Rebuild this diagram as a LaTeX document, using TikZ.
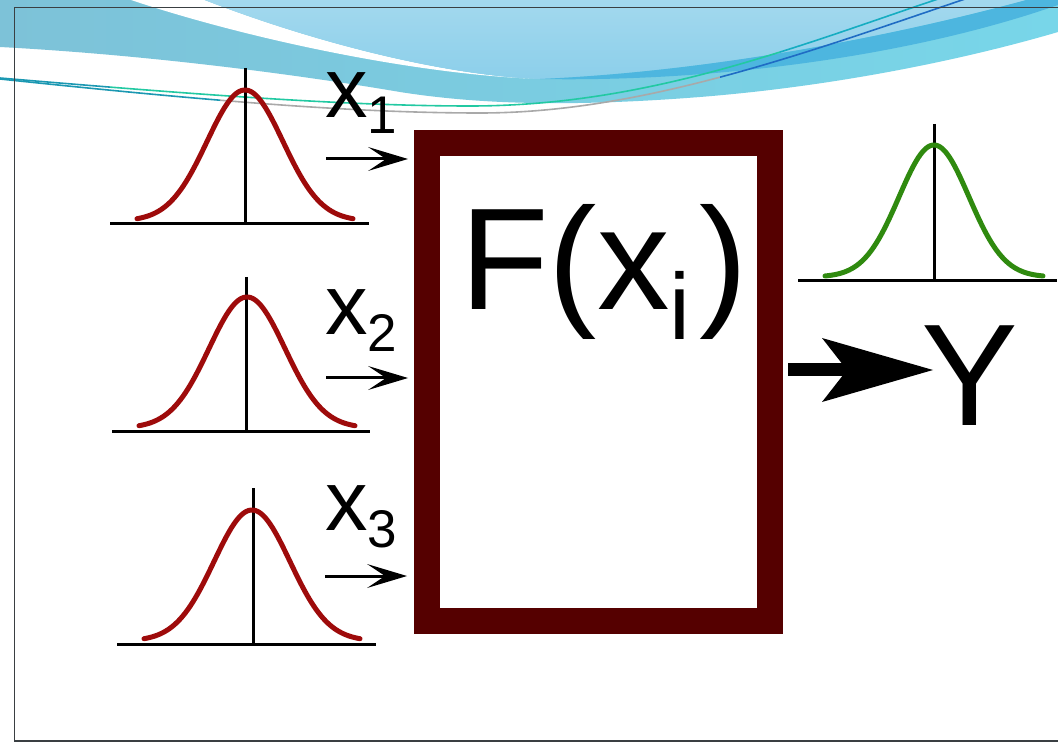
\documentclass[tikz,border=0pt]{standalone}
\usepackage{fontspec}
\setmainfont{Liberation Sans}
\usetikzlibrary{arrows.meta}
\definecolor{curvered}{HTML}{9E0B0B}
\definecolor{curvegreen}{HTML}{2F8A0F}
\definecolor{boxred}{HTML}{550000}
\definecolor{bandleft}{HTML}{7DC2D8}
\definecolor{bandmid}{HTML}{7EDDEC}
\definecolor{bandright}{HTML}{78D6E9}
\definecolor{lightsky}{HTML}{8CCFEA}
\definecolor{darkband}{HTML}{4DB6DF}
\definecolor{linegreen}{HTML}{22C9A2}
\definecolor{lineteal}{HTML}{1B98B2}
\definecolor{lineblue}{HTML}{1F6CC4}
\definecolor{linegrey}{HTML}{A9A9A9}
\definecolor{framegrey}{HTML}{3A3F42}
\begin{document}
\begin{tikzpicture}[x=1pt,y=-1pt,
  axisline/.style={line width=3pt, black},
  bell/.style={line width=5pt, curvered, line cap=round},
  greenbell/.style={line width=5pt, curvegreen, line cap=round},
  inarrow/.style={line width=3pt, black, -{Stealth[length=40pt, width=24pt, inset=18pt, line width=0pt]}},
  bigarrow/.style={line width=13pt, black, -{Stealth[length=111pt, width=64pt, inset=25pt, line width=0pt]}},
  funcbox/.style={draw=boxred, line width=26pt, inner sep=0pt, minimum width=343.5pt, minimum height=477.5pt},
  lbl/.style={anchor=base west, inner sep=0pt, text=black},
  deco/.style={line width=1.6pt}
]
\useasboundingbox (0,0) rectangle (1058,743);
\fill[white] (0,0) rectangle (1058,743);

% ---------- top decoration ----------
\shade[left color=bandleft, middle color=bandmid, right color=bandright]
  (0,-1) -- (0,47) .. controls (150,55) and (300,75) .. (400,92)
  .. controls (470,103) and (560,108) .. (700,97)
  .. controls (850,85) and (980,55) .. (1058,32) -- (1058,-1) -- cycle;
\fill[white] (128,-1) .. controls (250,40) and (420,75) .. (540,79)
  .. controls (450,76) and (320,45) .. (202,-1) -- cycle;
\shade[top color=lightsky!80!white, bottom color=lightsky]
  (202,-1) .. controls (320,45) and (450,76) .. (540,79)
  .. controls (700,72) and (880,40) .. (1030,-1) -- cycle;
\fill[darkband] (540,79) .. controls (700,82) and (900,60) .. (1058,5)
  -- (1058,-1) -- (1030,-1) .. controls (880,40) and (700,72) .. (540,79) -- cycle;
% thin lines
\begin{scope}
  \clip (0,-1) rectangle (110,200);
  \draw[deco, lineteal] (0,78) .. controls (200,95) and (350,106) .. (470,106)
    .. controls (650,106) and (800,45) .. (938,-1);
\end{scope}
\begin{scope}
  \clip (110,-1) rectangle (780,200);
  \draw[deco, linegreen] (0,78) .. controls (200,95) and (350,106) .. (470,106)
    .. controls (650,106) and (800,45) .. (938,-1);
\end{scope}
\begin{scope}
  \clip (780,-1) rectangle (1058,200);
  \draw[deco, lineteal!80!cyan] (0,78) .. controls (200,95) and (350,106) .. (470,106)
    .. controls (650,106) and (800,45) .. (938,-1);
\end{scope}
\begin{scope}
  \clip (0,-1) rectangle (220,200);
  \draw[deco, lineteal] (0,79) .. controls (200,100) and (350,113) .. (480,113)
    .. controls (640,113) and (800,55) .. (965,-1);
\end{scope}
\begin{scope}
  \clip (220,-1) rectangle (720,200);
  \draw[deco, linegrey] (0,79) .. controls (200,100) and (350,113) .. (480,113)
    .. controls (640,113) and (800,55) .. (965,-1);
\end{scope}
\begin{scope}
  \clip (720,-1) rectangle (1058,200);
  \draw[deco, lineblue] (0,79) .. controls (200,100) and (350,113) .. (480,113)
    .. controls (640,113) and (800,55) .. (965,-1);
\end{scope}

% ---------- frame ----------
\draw[framegrey, line width=1.3pt] (1060,7.5) -- (14.5,7.5) -- (14.5,741) -- (1060,741);

% ---------- input distributions ----------
\draw[axisline] (110,224) -- (369,224);
\draw[axisline] (245,68) -- (245,224);
\draw[bell] plot[domain=-108:108, samples=90, variable=\t] ({245+\t},{221-131*exp(-(\t*\t)/2888)});

\draw[axisline] (112,431) -- (370,431);
\draw[axisline] (246,277) -- (246,431);
\draw[bell] plot[domain=-108:108, samples=90, variable=\t] ({247+\t},{428-131*exp(-(\t*\t)/2888)});

\draw[axisline] (117,644) -- (376,644);
\draw[axisline] (253,488) -- (253,644);
\draw[bell] plot[domain=-108:108, samples=90, variable=\t] ({252+\t},{641-131*exp(-(\t*\t)/2888)});

% ---------- output distribution ----------
\draw[axisline] (798,281) -- (1057,281);
\draw[axisline] (934,124) -- (934,281);
\draw[greenbell] plot[domain=-109:109, samples=90, variable=\t] ({934+\t},{277-132*exp(-(\t*\t)/2450)});

% ---------- box ----------
\node[funcbox] (box) at (598.25,382.25) {};
\node[lbl] (fx) at (460,310) {\fontsize{145pt}{145pt}\selectfont F(x\raisebox{-30pt}{\fontsize{94pt}{94pt}\selectfont i}\kern9pt)};

% ---------- labels ----------
\node[lbl] (x1) at (325,118) {\fontsize{85pt}{85pt}\selectfont x\raisebox{-16pt}{\fontsize{53pt}{53pt}\selectfont 1}};
\node[lbl] (x2) at (325,335) {\fontsize{85pt}{85pt}\selectfont x\raisebox{-17pt}{\fontsize{53pt}{53pt}\selectfont 2}};
\node[lbl] (x3) at (325,530) {\fontsize{85pt}{85pt}\selectfont x\raisebox{-17pt}{\fontsize{53pt}{53pt}\selectfont 3}};
\node[lbl] (yout) at (921,425) {\fontsize{145pt}{145pt}\selectfont Y};

% ---------- arrows ----------
\coordinate (a1) at (326,159);
\coordinate (a2) at (326,378);
\coordinate (a3) at (325,576);
\draw[inarrow, shorten >=5.5pt] (a1) -- (a1 -| box.west);
\draw[inarrow, shorten >=5.5pt] (a2) -- (a2 -| box.west);
\draw[inarrow, shorten >=6.5pt] (a3) -- (a3 -| box.west);
\coordinate (b0) at (788,370);
\coordinate (b1) at (933,370);
\draw[bigarrow] (b0) -- (b1);
\end{tikzpicture}
\end{document}
